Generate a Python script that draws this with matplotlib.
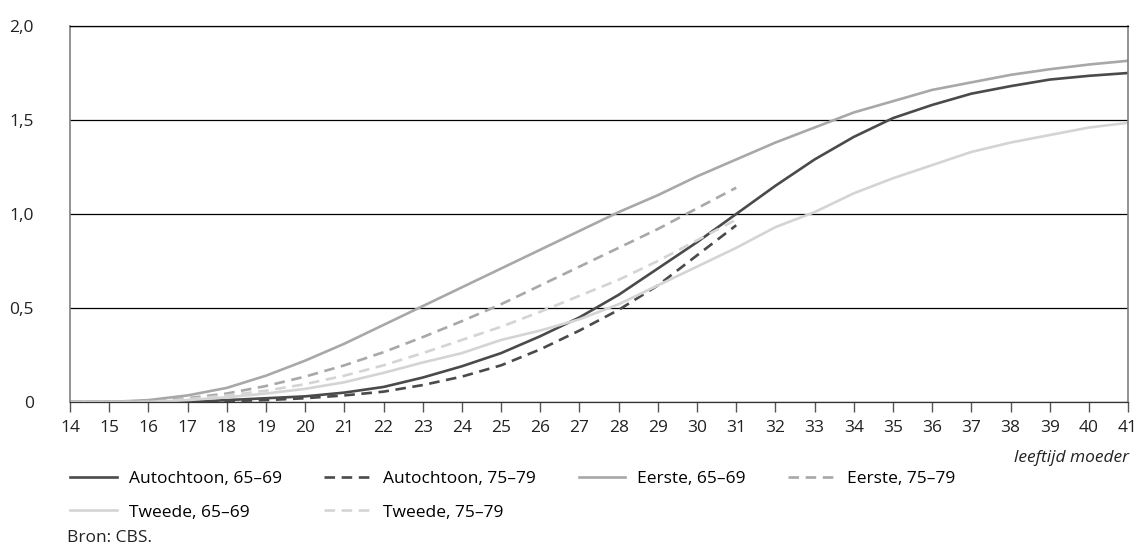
import matplotlib
matplotlib.use('Agg')
import matplotlib.pyplot as plt

# data
leeftijd = list(range(14, 42))
leeftijd_kort = list(range(14, 32))

autochtoon_6569 = [0, 0, 0, 0, 0.01, 0.02, 0.03, 0.05, 0.08, 0.13, 0.19, 0.26, 0.35, 0.45,
                   0.57, 0.71, 0.85, 1.00, 1.15, 1.29, 1.41, 1.51, 1.58, 1.64, 1.68, 1.715, 1.735, 1.75]
autochtoon_7579 = [0, 0, 0, 0, 0.005, 0.01, 0.02, 0.035, 0.055, 0.09, 0.135, 0.195, 0.28, 0.38,
                   0.49, 0.62, 0.78, 0.94]
eerste_6569 = [0, 0, 0.01, 0.035, 0.075, 0.14, 0.22, 0.31, 0.41, 0.51, 0.61, 0.71, 0.81, 0.91,
               1.01, 1.10, 1.20, 1.29, 1.38, 1.46, 1.54, 1.60, 1.66, 1.70, 1.74, 1.77, 1.795, 1.815]
eerste_7579 = [0, 0, 0.005, 0.02, 0.045, 0.085, 0.135, 0.195, 0.265, 0.345, 0.43, 0.52, 0.62,
               0.72, 0.82, 0.92, 1.03, 1.14]
tweede_6569 = [0, 0, 0, 0.01, 0.025, 0.045, 0.07, 0.105, 0.155, 0.21, 0.26, 0.33, 0.38, 0.44,
               0.52, 0.62, 0.72, 0.82, 0.93, 1.01, 1.11, 1.19, 1.26, 1.33, 1.38, 1.42, 1.46, 1.485]
tweede_7579 = [0, 0, 0, 0.015, 0.035, 0.06, 0.095, 0.14, 0.195, 0.26, 0.33, 0.40, 0.48, 0.565,
               0.65, 0.75, 0.86, 0.97]

y_ticks = [0, 0.5, 1.0, 1.5, 2.0]
y_labels = ['0', '0,5', '1,0', '1,5', '2,0']

plt.rcParams['font.family'] = ['Open Sans', 'DejaVu Sans']
fs = 12.5

fig = plt.figure(figsize=(11.39, 5.45), dpi=100)
ax = fig.add_axes([0.0615, 0.2624, 0.9289, 0.6899])

donker = '#4a4a4a'
middel = '#a8a8a8'
licht = '#d4d4d4'
lw = 1.9
dash = (0, (4, 2.5))

l1, = ax.plot(leeftijd, autochtoon_6569, color=donker, lw=lw, label='Autochtoon, 65–69')
l2, = ax.plot(leeftijd_kort, autochtoon_7579, color=donker, lw=lw, ls=dash, label='Autochtoon, 75–79')
l3, = ax.plot(leeftijd, eerste_6569, color=middel, lw=lw, label='Eerste, 65–69')
l4, = ax.plot(leeftijd_kort, eerste_7579, color=middel, lw=lw, ls=dash, label='Eerste, 75–79')
l5, = ax.plot(leeftijd, tweede_6569, color=licht, lw=lw, label='Tweede, 65–69')
l6, = ax.plot(leeftijd_kort, tweede_7579, color=licht, lw=lw, ls=dash, label='Tweede, 75–79')

ax.set_xlim(14, 41)
ax.set_ylim(0, 2)
ax.set_xticks(leeftijd)
ax.set_yticks(y_ticks)
ax.set_yticklabels(y_labels)
ax.tick_params(axis='x', direction='out', length=7, width=1, color='#555555',
               labelsize=fs, pad=6, labelcolor='#222222')
ax.tick_params(axis='y', length=0, labelsize=fs, pad=26, labelcolor='#222222')
for lab in ax.get_yticklabels():
    lab.set_horizontalalignment('right')

ax.grid(axis='y', color='black', lw=0.9)
ax.grid(axis='x', visible=False)
ax.set_axisbelow(True)
ax.spines['top'].set_color('black')
ax.spines['top'].set_linewidth(0.9)
ax.spines['bottom'].set_color('#333333')
ax.spines['bottom'].set_linewidth(0.9)
for s in ['left', 'right']:
    ax.spines[s].set_color('#808080')
    ax.spines[s].set_linewidth(1.2)

fig.text(0.9912, 0.1596, 'leeftijd moeder', style='italic', fontsize=fs,
         ha='right', va='center', color='#222222')

handles = [l1, l5, l2, l6, l3, l4]
fig.legend(handles, [h.get_label() for h in handles], ncol=4, loc='upper left',
           bbox_to_anchor=(0.0615, 0.136), frameon=False, fontsize=fs,
           handlelength=2.7, handletextpad=0.69, columnspacing=2.45,
           labelspacing=1.0, borderpad=0, borderaxespad=0)

fig.text(0.059, 0.012, 'Bron: CBS.', fontsize=fs, ha='left', va='center', color='#222222')

plt.savefig('out.png', dpi=100)
plt.close()
